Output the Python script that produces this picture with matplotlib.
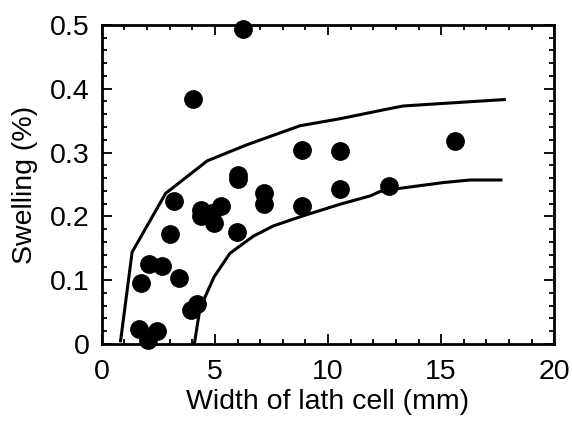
import matplotlib.pyplot as plt
from matplotlib.ticker import MultipleLocator

plt.rcParams['font.family'] = ['Liberation Sans', 'DejaVu Sans']

# measured points: width of lath cell (mm) vs swelling (%)
width = [6.25, 4.04, 8.85, 10.53, 15.62, 6.03, 6.03, 7.18, 7.18, 8.83, 10.53, 12.71,
         3.2, 4.4, 4.4, 4.85, 4.97, 5.27, 5.97, 3.01, 2.09, 2.64, 1.75, 3.39,
         3.96, 4.22, 1.64, 2.42, 2.02]
swelling = [0.494, 0.384, 0.304, 0.302, 0.318, 0.265, 0.258, 0.236, 0.220, 0.217, 0.243, 0.247,
            0.224, 0.210, 0.200, 0.205, 0.190, 0.217, 0.175, 0.173, 0.125, 0.122, 0.095, 0.103,
            0.054, 0.062, 0.023, 0.020, 0.006]

# upper bound curve
upper_x = [0.83, 1.34, 2.82, 4.66, 6.4, 8.76, 10.53, 12.74, 13.33, 15.99, 17.79]
upper_y = [0.005, 0.144, 0.236, 0.287, 0.312, 0.342, 0.353, 0.369, 0.373, 0.379, 0.383]

# lower bound curve
lower_x = [4.09, 4.34, 4.96, 5.66, 6.7, 7.58, 8.91, 10.53, 11.86, 12.3, 13.19, 15.1, 16.28, 17.64]
lower_y = [0.0, 0.056, 0.105, 0.142, 0.169, 0.185, 0.201, 0.219, 0.232, 0.239, 0.244, 0.253, 0.257, 0.257]

fig = plt.figure(figsize=(5.72, 4.26), dpi=100)
ax = fig.add_axes([0.178, 0.1925, 0.791, 0.749])

ax.plot(upper_x, upper_y, color='black', lw=2.2)
ax.plot(lower_x, lower_y, color='black', lw=2.2)
ax.plot(width, swelling, 'o', color='black', markersize=12.5, clip_on=False)

ax.set_xlim(0, 20)
ax.set_ylim(0, 0.5)
ax.xaxis.set_major_locator(MultipleLocator(5))
ax.xaxis.set_minor_locator(MultipleLocator(1))
ax.yaxis.set_major_locator(MultipleLocator(0.1))
ax.yaxis.set_minor_locator(MultipleLocator(0.02))
ax.set_yticks([0, 0.1, 0.2, 0.3, 0.4, 0.5])
ax.set_yticklabels(['0', '0.1', '0.2', '0.3', '0.4', '0.5'])
ax.tick_params(which='both', direction='in', top=True, right=True, width=1.3, labelsize=20.5)
ax.tick_params(which='major', length=7)
ax.tick_params(axis='y', which='major', pad=9)
ax.tick_params(axis='x', which='major', pad=11)
ax.tick_params(which='minor', length=3.5)
for s in ax.spines.values():
    s.set_linewidth(2)

ax.set_xlabel('Width of lath cell (mm)', fontsize=20.5, labelpad=3)
ax.set_ylabel('Swelling (%)', fontsize=20.5, labelpad=8)

fig.savefig('out.png', dpi=100)
